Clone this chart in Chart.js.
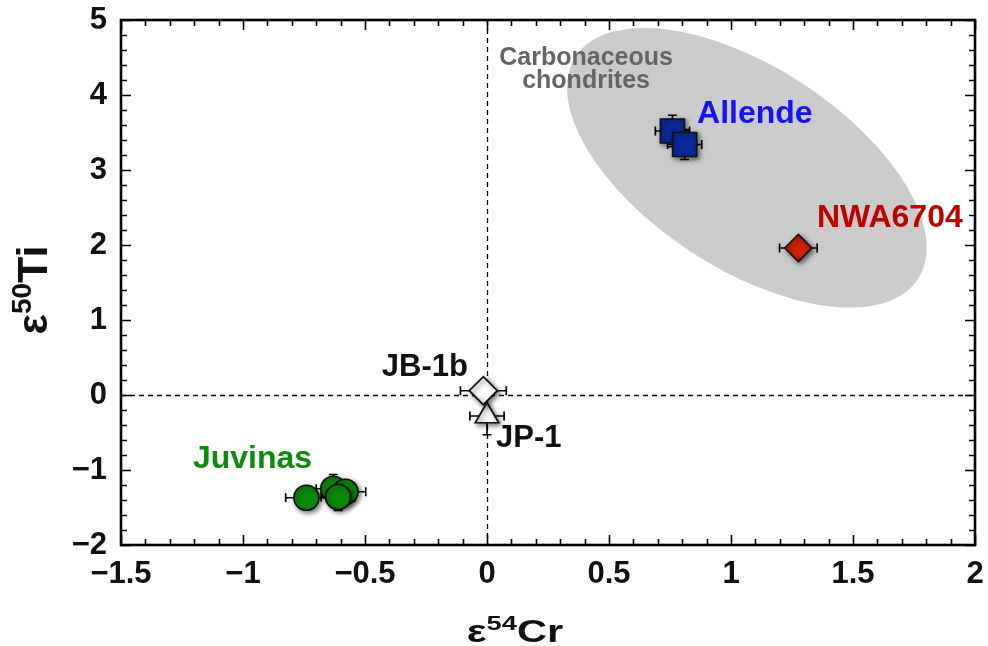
<!DOCTYPE html>
<html>
<head>
<meta charset="utf-8">
<title>ε54Cr vs ε50Ti</title>
<script src="https://cdn.jsdelivr.net/npm/chart.js@4.4.1/dist/chart.umd.min.js"></script>
<style>
  html, body { margin: 0; padding: 0; background: #fff; }
  canvas { display: block; }
</style>
</head>
<body>
<canvas id="chart" width="988" height="646"></canvas>
<script>
/* ---------- DATA ---------- */
// Allende (CV chondrite)
const allendeCr    = [0.76, 0.81];
const allendeTi    = [3.52, 3.34];
const allendeCrErr = [0.07, 0.07];
const allendeTiErr = [0.21, 0.20];

// NWA6704
const nwaCr    = [1.276];
const nwaTi    = [1.96];
const nwaCrErr = [0.077];
const nwaTiErr = [0.08];

// Juvinas (eucrite)
const juvinasCr    = [-0.74, -0.63, -0.58, -0.61];
const juvinasTi    = [-1.37, -1.25, -1.29, -1.36];
const juvinasCrErr = [0.085, 0.07, 0.083, 0.07];
const juvinasTiErr = [0.15, 0.19, 0.15, 0.18];

// terrestrial standards
const jb1bCr = [-0.015], jb1bTi = [0.057], jb1bCrErr = [0.094], jb1bTiErr = [0.05];
const jp1Cr  = [0.0],    jp1Ti  = [-0.28], jp1CrErr  = [0.07],  jp1TiErr  = [0.25];

// axes
const xMin = -1.5, xMax = 2, xStep = 0.5, xMinor = 0.1;
const yMin = -2,   yMax = 5, yStep = 1,   yMinor = 0.2;

// carbonaceous chondrite field (centre + semi-axis vectors, data units)
const fieldCentre = [1.065, 3.03];
const fieldMajor  = [0.70, -1.49];
const fieldMinor  = [-0.23, -1.12];

/* ---------- HELPERS ---------- */
const FONT = '"Liberation Sans", Arial, Helvetica, sans-serif';
const pts = (xs, ys) => xs.map((x, i) => ({ x, y: ys[i] }));
const fmt = v => (v < 0 ? '\u2212' + Math.abs(v) : String(v));

function series(label, xs, ys, xe, ye, style) {
    return Object.assign({
        label,
        data: pts(xs, ys),
        xErr: xe,
        yErr: ye,
        borderColor: '#111',
        borderWidth: 1.7,
        showLine: false,
    }, style);
}

/* ---------- PLUGIN: field, zero lines, error bars, frame, labels ---------- */
const decor = {
    id: 'decor',
    beforeDatasetsDraw(chart) {
        const { ctx, chartArea: a, scales: { x, y } } = chart;
        const sx = x.getPixelForValue(1) - x.getPixelForValue(0);
        const sy = y.getPixelForValue(0) - y.getPixelForValue(1);

        // gray ellipse
        ctx.save();
        ctx.translate(x.getPixelForValue(fieldCentre[0]), y.getPixelForValue(fieldCentre[1]));
        ctx.transform(fieldMajor[0] * sx, -fieldMajor[1] * sy, fieldMinor[0] * sx, -fieldMinor[1] * sy, 0, 0);
        ctx.beginPath();
        ctx.arc(0, 0, 1, 0, Math.PI * 2);
        ctx.restore();
        ctx.fillStyle = '#cbcbcb';
        ctx.fill();

        // dashed zero lines
        ctx.save();
        ctx.strokeStyle = '#000';
        ctx.lineWidth = 1.3;
        ctx.setLineDash([5, 4]);
        ctx.beginPath();
        const x0 = Math.round(x.getPixelForValue(0)) + 0.5;
        const y0 = Math.round(y.getPixelForValue(0)) + 0.5;
        ctx.moveTo(x0, a.top); ctx.lineTo(x0, a.bottom);
        ctx.moveTo(a.left, y0); ctx.lineTo(a.right, y0);
        ctx.stroke();
        ctx.restore();

        // error bars
        ctx.save();
        ctx.strokeStyle = '#000';
        ctx.lineWidth = 1.7;
        const cap = 4.5;
        chart.data.datasets.forEach(ds => {
            ds.data.forEach((p, i) => {
                const px = x.getPixelForValue(p.x), py = y.getPixelForValue(p.y);
                const l = x.getPixelForValue(p.x - ds.xErr[i]), r = x.getPixelForValue(p.x + ds.xErr[i]);
                const t = y.getPixelForValue(p.y + ds.yErr[i]), b = y.getPixelForValue(p.y - ds.yErr[i]);
                ctx.beginPath();
                ctx.moveTo(l, py); ctx.lineTo(r, py);
                ctx.moveTo(l, py - cap); ctx.lineTo(l, py + cap);
                ctx.moveTo(r, py - cap); ctx.lineTo(r, py + cap);
                ctx.moveTo(px, t); ctx.lineTo(px, b);
                ctx.moveTo(px - cap, t); ctx.lineTo(px + cap, t);
                ctx.moveTo(px - cap, b); ctx.lineTo(px + cap, b);
                ctx.stroke();
            });
        });
        ctx.restore();

        // soft drop shadow under the markers
        ctx.save();
        ctx.shadowColor = 'rgba(0,0,0,0.55)';
        ctx.shadowBlur = 5;
        ctx.shadowOffsetX = 2;
        ctx.shadowOffsetY = 2;
    },
    afterDatasetsDraw(chart) {
        const { ctx, chartArea: a, scales: { x, y } } = chart;
        ctx.restore();

        // frame with inward ticks on all four sides
        ctx.save();
        ctx.strokeStyle = '#000';
        ctx.lineWidth = 1.6;
        ctx.beginPath();
        for (let i = 0; i <= Math.round((xMax - xMin) / xMinor); i++) {
            const v = xMin + i * xMinor;
            const major = Math.abs(v / xStep - Math.round(v / xStep)) < 1e-6;
            const len = major ? 10 : 6;
            const px = Math.round(x.getPixelForValue(v)) + 0.5;
            ctx.moveTo(px, a.bottom); ctx.lineTo(px, a.bottom - len);
            ctx.moveTo(px, a.top); ctx.lineTo(px, a.top + len);
        }
        for (let i = 0; i <= Math.round((yMax - yMin) / yMinor); i++) {
            const v = yMin + i * yMinor;
            const major = Math.abs(v / yStep - Math.round(v / yStep)) < 1e-6;
            const len = major ? 10 : 6;
            const py = Math.round(y.getPixelForValue(v)) + 0.5;
            ctx.moveTo(a.left, py); ctx.lineTo(a.left + len, py);
            ctx.moveTo(a.right, py); ctx.lineTo(a.right - len, py);
        }
        ctx.stroke();
        ctx.lineWidth = 2.6;
        ctx.strokeRect(a.left, a.top, a.right - a.left, a.bottom - a.top);
        ctx.restore();

        // sample labels
        ctx.save();
        ctx.textBaseline = 'alphabetic';
        const label = (txt, vx, vy, color, size, align) => {
            ctx.font = 'bold ' + size + 'px ' + FONT;
            ctx.fillStyle = color;
            ctx.textAlign = align;
            ctx.fillText(txt, x.getPixelForValue(vx), y.getPixelForValue(vy));
        };
        label('Carbonaceous', 0.406, 4.40, '#656565', 25, 'center');
        label('chondrites',   0.406, 4.093, '#656565', 25, 'center');
        label('Allende',  0.861, 3.627, '#1414f0', 32, 'left');
        label('NWA6704',  1.352, 2.24,  '#c00000', 32, 'left');
        label('JB-1b',   -0.078, 0.253, '#111',    31, 'right');
        label('JP-1',     0.037, -0.693, '#111',   31, 'left');
        label('Juvinas', -1.205, -0.973, '#0c8a0c', 32, 'left');
        ctx.restore();

        // axis titles with superscripts
        ctx.save();
        ctx.fillStyle = '#111';
        ctx.textBaseline = 'alphabetic';
        ctx.textAlign = 'left';
        const title = (base, sup, tail, big, small, rise) => {
            ctx.font = 'bold ' + big + 'px ' + FONT;
            const w1 = ctx.measureText(base).width;
            const w3 = ctx.measureText(tail).width;
            ctx.font = 'bold ' + small + 'px ' + FONT;
            const w2 = ctx.measureText(sup).width;
            const total = w1 + w2 + w3;
            let cx = -total / 2;
            ctx.font = 'bold ' + big + 'px ' + FONT;
            ctx.fillText(base, cx, 0); cx += w1;
            ctx.font = 'bold ' + small + 'px ' + FONT;
            ctx.fillText(sup, cx, -rise); cx += w2;
            ctx.font = 'bold ' + big + 'px ' + FONT;
            ctx.fillText(tail, cx, 0);
        };
        ctx.save();
        ctx.translate(515, 642);
        ctx.scale(1.3, 1);
        title('\u03b5', '54', 'Cr', 32, 21, 12);
        ctx.restore();
        ctx.save();
        ctx.translate(47, 290);
        ctx.rotate(-Math.PI / 2);
        title('\u03b5', '50', 'Ti', 43, 28, 16);
        ctx.restore();
        ctx.restore();
    }
};

/* ---------- CHART ---------- */
const tickFont = { family: FONT, size: 31, weight: 'bold' };

new Chart(document.getElementById('chart'), {
    type: 'scatter',
    data: {
        datasets: [
            series('Juvinas', juvinasCr, juvinasTi, juvinasCrErr, juvinasTiErr,
                { pointStyle: 'circle', pointRadius: 12.5, backgroundColor: '#0b8a0b' }),
            series('JB-1b', jb1bCr, jb1bTi, jb1bCrErr, jb1bTiErr,
                { pointStyle: 'rectRot', pointRadius: 14, backgroundColor: '#fff' }),
            series('JP-1', jp1Cr, jp1Ti, jp1CrErr, jp1TiErr,
                { pointStyle: 'triangle', pointRadius: 13.5, backgroundColor: '#fff' }),
            series('NWA6704', nwaCr, nwaTi, nwaCrErr, nwaTiErr,
                { pointStyle: 'rectRot', pointRadius: 13.5, backgroundColor: '#d42000' }),
            series('Allende', allendeCr, allendeTi, allendeCrErr, allendeTiErr,
                { pointStyle: 'rect', pointRadius: 17, backgroundColor: '#0a2a9c' }),
        ]
    },
    options: {
        responsive: false,
        animation: false,
        devicePixelRatio: 1,
        layout: { autoPadding: false, padding: { top: 20, right: 13, left: 0, bottom: 0 } },
        plugins: { legend: { display: false }, tooltip: { enabled: false } },
        scales: {
            x: {
                type: 'linear', min: xMin, max: xMax,
                grid: { display: false, drawTicks: false },
                border: { display: false },
                ticks: { stepSize: xStep, color: '#111', font: tickFont, padding: 11, autoSkip: false, maxRotation: 0, callback: fmt },
                afterFit: s => { s.height = 101; s.paddingLeft = 0; s.paddingRight = 0; }
            },
            y: {
                type: 'linear', min: yMin, max: yMax,
                grid: { display: false, drawTicks: false },
                border: { display: false },
                ticks: { stepSize: yStep, color: '#111', font: tickFont, padding: 14, callback: fmt },
                afterFit: s => { s.width = 121; s.paddingTop = 0; s.paddingBottom = 0; }
            }
        }
    },
    plugins: [decor]
});
</script>
</body>
</html>
